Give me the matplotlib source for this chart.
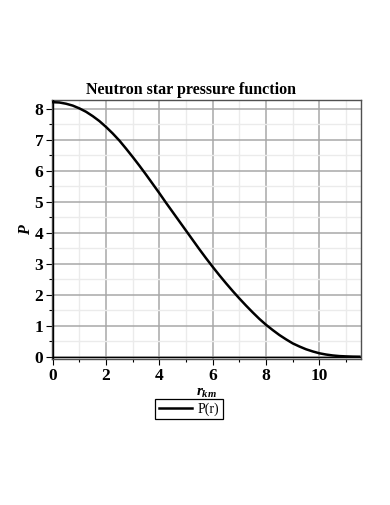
import numpy as np
import matplotlib
matplotlib.use("Agg")
import matplotlib.pyplot as plt
from matplotlib.ticker import MultipleLocator

# values
r_km = [0, 0.25, 0.5, 0.75, 1, 1.25, 1.5, 1.75, 2, 2.25, 2.5, 2.75, 3, 3.25, 3.5, 3.75,
        4, 4.25, 4.5, 4.75, 5, 5.25, 5.5, 5.75, 6, 6.25, 6.5, 6.75, 7, 7.25, 7.5, 7.75,
        8, 8.25, 8.5, 8.75, 9, 9.25, 9.5, 9.75, 10, 10.25, 10.5, 10.75, 11, 11.25, 11.5]
pressure = [8.22, 8.21, 8.17, 8.11, 8.02, 7.91, 7.77, 7.61, 7.42, 7.21, 6.98, 6.72,
            6.45, 6.17, 5.88, 5.58, 5.28, 4.97, 4.67, 4.37, 4.07, 3.77, 3.47, 3.18,
            2.90, 2.63, 2.37, 2.12, 1.88, 1.65, 1.43, 1.22, 1.03, 0.86, 0.70, 0.56,
            0.43, 0.33, 0.24, 0.17, 0.11, 0.07, 0.04, 0.02, 0.01, 0.003, 0.0]

title = "Neutron star pressure function"
legend_label = "P(r)"

plt.rcParams['font.family'] = ['Liberation Serif', 'DejaVu Serif']
plt.rcParams['mathtext.fontset'] = 'custom'
plt.rcParams['mathtext.it'] = 'Liberation Serif:italic:bold'
plt.rcParams['mathtext.rm'] = 'Liberation Serif:bold'

fig = plt.figure(figsize=(3.9, 5.05), dpi=100)
ax = fig.add_axes([51.5/390, 1 - 359.3/505, (361 - 51.5)/390, (359.3 - 99.7)/505])

ax.plot(r_km, pressure, color='black', lw=1.8, label=legend_label, zorder=5)

ax.set_xlim(-0.045, 11.56)
ax.set_ylim(-0.084, 8.30)
ax.xaxis.set_major_locator(MultipleLocator(2))
ax.xaxis.set_minor_locator(MultipleLocator(1))
ax.yaxis.set_major_locator(MultipleLocator(1))
ax.yaxis.set_minor_locator(MultipleLocator(0.5))

ax.grid(which='major', color='#a8a8a8', lw=1.1)
ax.grid(which='minor', color='#ebebeb', lw=1.0)
ax.set_axisbelow(True)
ax.axhline(0, color='black', lw=1.0, zorder=3)
ax.axvline(0, color='black', lw=1.0, zorder=3)

for s in ax.spines.values():
    s.set_color('#505050')
    s.set_linewidth(1.0)

ax.tick_params(which='major', length=4, width=0.8, labelsize=12.5, pad=2)
ax.tick_params(which='minor', length=2, width=0.8)
for lab in ax.get_xticklabels() + ax.get_yticklabels():
    lab.set_fontweight('bold')

ax.set_xlabel(r'$r_{km}$', fontsize=11, labelpad=2)
ax.set_ylabel(r'$P$', fontsize=11.5, labelpad=0)

fig.text(191/390, 1 - 90/505, title, ha='center', va='center',
         fontsize=11.5, fontweight='bold')

fig.legend(loc='center', bbox_to_anchor=(189/390, 1 - 409/505),
           fancybox=False, edgecolor='black', framealpha=1, fontsize=10,
           handlelength=2.4, borderpad=0.25, handletextpad=0.4,
           borderaxespad=0).get_frame().set_linewidth(0.9)

fig.savefig('out.png', dpi=100)
